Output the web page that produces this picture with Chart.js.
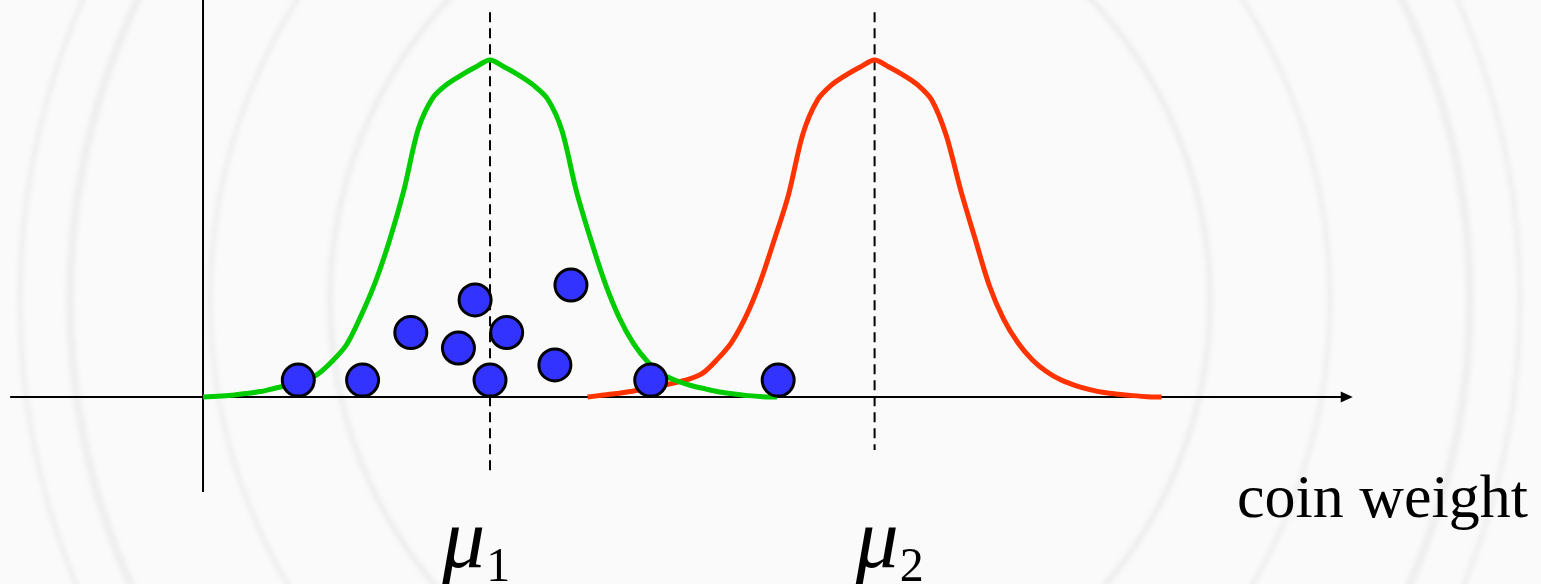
<!DOCTYPE html>
<html>
<head>
<meta charset="utf-8">
<title>coin weight</title>
<script src="https://cdn.jsdelivr.net/npm/chart.js@4/dist/chart.umd.min.js"></script>
<style>
  html, body { margin: 0; padding: 0; background: #fafafa; overflow: hidden; }
  canvas { display: block; }
</style>
</head>
<body>
<canvas id="coins" width="1541" height="584"></canvas>
<script>
// means of the two coin classes (coin weight units)
const means = [5.0, 11.7];
const meanLabels = ['1', '2'];

// offsets from the mean at which the density curves are sampled
const curveOffsets = [
  -5.0, -4.75, -4.5, -4.25, -4.0, -3.75, -3.5, -3.25, -3.0, -2.75, -2.5,
  -2.25, -2.0, -1.75, -1.5, -1.25, -1.0, -0.75, -0.5, -0.25, 0,
  0.25, 0.5, 0.75, 1.0, 1.25, 1.5, 1.75, 2.0, 2.25, 2.5,
  2.75, 3.0, 3.25, 3.5, 3.75, 4.0, 4.25, 4.5, 4.75, 5.0
];

// class 1 density (green)
const greenDensity = [
  0, 0.002, 0.005, 0.010, 0.016, 0.026, 0.036, 0.050, 0.068, 0.106, 0.155,
  0.240, 0.340, 0.465, 0.614, 0.795, 0.887, 0.928, 0.955, 0.979, 1.000,
  0.979, 0.955, 0.926, 0.885, 0.792, 0.614, 0.470, 0.340, 0.236, 0.158,
  0.104, 0.068, 0.048, 0.034, 0.024, 0.015, 0.009, 0.004, 0.001, 0
];

// class 2 density (red)
const redDensity = [
  0, 0.005, 0.010, 0.016, 0.025, 0.032, 0.041, 0.052, 0.070, 0.110, 0.160,
  0.236, 0.338, 0.465, 0.600, 0.780, 0.880, 0.926, 0.955, 0.979, 1.000,
  0.979, 0.955, 0.926, 0.880, 0.775, 0.614, 0.470, 0.330, 0.230, 0.160,
  0.110, 0.075, 0.050, 0.034, 0.022, 0.013, 0.008, 0.004, 0.001, 0
];

// observed coins: weight and stacking height
const coinWeights = [1.66, 2.78, 3.62, 4.45, 4.74, 5.0, 5.29, 6.13, 6.41, 7.80, 10.02];
const coinHeights = [0.050, 0.050, 0.191, 0.145, 0.288, 0.050, 0.191, 0.095, 0.332, 0.050, 0.050];

const curvePoints = (mu, heights) => curveOffsets.map((d, i) => ({ x: mu + d, y: heights[i] }));
const coinPoints = coinWeights.map((w, i) => ({ x: w, y: coinHeights[i] }));

// faint seal in the background
const sealPlugin = {
  id: 'seal',
  beforeDraw(chart) {
    const { ctx, width, height } = chart;
    ctx.save();
    ctx.fillStyle = '#fafafa';
    ctx.fillRect(0, 0, width, height);
    ctx.filter = 'blur(2px)';
    ctx.strokeStyle = '#eeeeee';
    const cx = 770, cy = 300;
    [[440, 6], [560, 5], [700, 8], [750, 5]].forEach(([r, w]) => {
      ctx.lineWidth = w;
      ctx.beginPath();
      ctx.arc(cx, cy, r, 0, Math.PI * 2);
      ctx.stroke();
    });
    ctx.restore();
  }
};

// axes, mean markers and labels
const axesPlugin = {
  id: 'axes',
  beforeDatasetsDraw(chart) {
    const { ctx } = chart;
    const x = chart.scales.x, y = chart.scales.y;
    const x0 = x.getPixelForValue(0), y0 = y.getPixelForValue(0);
    ctx.save();
    ctx.strokeStyle = '#000';
    ctx.fillStyle = '#000';
    ctx.lineWidth = 2;

    // vertical axis
    ctx.beginPath();
    ctx.moveTo(x0, 0);
    ctx.lineTo(x0, y.getPixelForValue(-0.282));
    ctx.stroke();

    // horizontal axis with arrow
    const xEnd = x.getPixelForValue(20.03);
    ctx.beginPath();
    ctx.moveTo(x.getPixelForValue(-3.36), y0);
    ctx.lineTo(xEnd - 8, y0);
    ctx.stroke();
    ctx.beginPath();
    ctx.moveTo(xEnd, y0);
    ctx.lineTo(xEnd - 12, y0 - 5.5);
    ctx.lineTo(xEnd - 12, y0 + 5.5);
    ctx.closePath();
    ctx.fill();

    // dashed mean lines
    ctx.setLineDash([10, 6]);
    ctx.lineWidth = 2;
    [[means[0], -0.223], [means[1], -0.157]].forEach(([m, low]) => {
      const px = x.getPixelForValue(m);
      ctx.beginPath();
      ctx.moveTo(px, y.getPixelForValue(1.142));
      ctx.lineTo(px, y.getPixelForValue(low));
      ctx.stroke();
    });
    ctx.restore();
  },
  afterDraw(chart) {
    const { ctx } = chart;
    const x = chart.scales.x;
    ctx.save();
    ctx.fillStyle = '#000';
    ctx.textBaseline = 'alphabetic';
    ctx.textAlign = 'left';
    [-48, -19].forEach((shift, i) => {
      const left = x.getPixelForValue(means[i]) + shift;
      ctx.font = 'italic 86px "Liberation Serif", "Times New Roman", serif';
      ctx.fillText('\u03bc', left, 567);
      const w = ctx.measureText('\u03bc').width;
      ctx.font = '48px "Liberation Serif", "Times New Roman", serif';
      ctx.fillText(meanLabels[i], left + w + 1, 581);
    });
    ctx.textAlign = 'right';
    ctx.font = '62px "Liberation Serif", "Times New Roman", serif';
    ctx.fillText('coin weight', 1528, 517);
    ctx.restore();
  }
};

new Chart(document.getElementById('coins'), {
  type: 'scatter',
  data: {
    datasets: [
      {
        label: 'coins',
        data: coinPoints,
        pointRadius: 16,
        pointBorderWidth: 3,
        pointBackgroundColor: '#3333ff',
        pointBorderColor: '#000'
      },
      {
        type: 'line',
        label: 'class 1',
        data: curvePoints(means[0], greenDensity),
        borderColor: '#00cc00',
        borderWidth: 5,
        pointRadius: 0,
        tension: 0.3,
        fill: false
      },
      {
        type: 'line',
        label: 'class 2',
        data: curvePoints(means[1], redDensity),
        borderColor: '#ff3300',
        borderWidth: 5,
        pointRadius: 0,
        tension: 0.3,
        fill: false
      }
    ]
  },
  options: {
    responsive: false,
    animation: false,
    layout: { padding: 0, autoPadding: false },
    plugins: {
      legend: { display: false },
      tooltip: { enabled: false }
    },
    scales: {
      x: { type: 'linear', min: -3.537, max: 23.31, display: false },
      y: { min: -0.555, max: 1.178, display: false }
    }
  },
  plugins: [sealPlugin, axesPlugin]
});
</script>
</body>
</html>
